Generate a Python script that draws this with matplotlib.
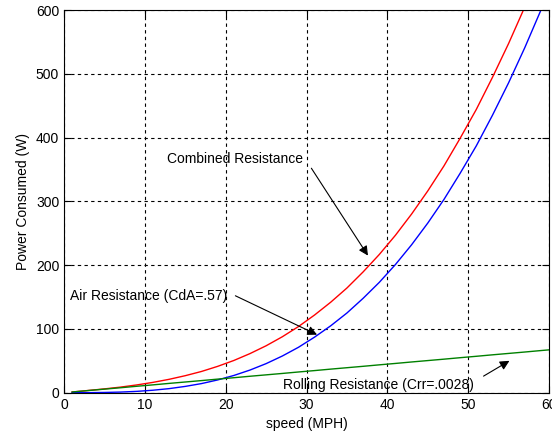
import matplotlib
matplotlib.use("Agg")
import matplotlib.pyplot as plt

# speed (MPH) and power (W)
speed = [1, 3, 5, 7, 9, 11, 13, 15, 17, 19, 21, 23, 25, 27, 29, 31, 33, 35,
         37, 39, 41, 43, 45, 47, 49, 51, 53, 55, 57, 59, 60]
air = [0.0, 0.1, 0.4, 1.0, 2.1, 3.9, 6.4, 9.9, 14.3, 20.0, 27.0, 35.5, 45.6,
       57.5, 71.2, 87.2, 105, 125, 148, 173, 201, 232, 266, 303, 344, 387,
       435, 486, 541, 600, 631]
rolling = [1.1, 3.4, 5.6, 7.8, 10.1, 12.3, 14.6, 16.8, 19.0, 21.3, 23.5, 25.8,
           28.0, 30.2, 32.5, 34.7, 37.0, 39.2, 41.4, 43.7, 45.9, 48.2, 50.4,
           52.6, 54.9, 57.1, 59.4, 61.6, 63.8, 66.1, 67.2]
combined = [a + r for a, r in zip(air, rolling)]

plt.rcParams['font.family'] = ['Liberation Sans', 'DejaVu Sans']
plt.rcParams['font.size'] = 10

fig = plt.figure(figsize=(5.52, 4.38), dpi=100)
ax = fig.add_axes([0.116, 0.1034, 0.8786, 0.8736])

ax.plot(speed, combined, color='red', lw=1)
ax.plot(speed, air, color='blue', lw=1)
ax.plot(speed, rolling, color='green', lw=1)

ax.set_xlim(0, 60)
ax.set_ylim(0, 600)
ax.set_xticks(range(0, 61, 10))
ax.set_yticks(range(0, 601, 100))
ax.grid(True, color='black', linestyle=(0, (3, 3)), linewidth=0.8)
ax.tick_params(direction='in', top=True, right=True, length=5, width=0.8)
for s in ax.spines.values():
    s.set_linewidth(0.8)

ax.set_xlabel('speed (MPH)')
ax.set_ylabel('Power Consumed (W)')

# text labels, arrows drawn separately (like matplotlib annotate w/o text)
arr = dict(arrowstyle='-|>', color='black', lw=0.8, mutation_scale=14,
           shrinkA=0, shrinkB=0)
ax.text(12.7, 366, 'Combined Resistance', va='center', ha='left')
ax.annotate('', xy=(37.6, 215), xytext=(30.6, 352), arrowprops=arr)
ax.text(0.7, 151, 'Air Resistance (CdA=.57)', va='center', ha='left')
ax.annotate('', xy=(31.3, 91), xytext=(21.2, 152), arrowprops=arr)
ax.text(27.1, 12, 'Rolling Resistance (Crr=.0028)', va='center', ha='left')
ax.annotate('', xy=(55.1, 50), xytext=(51.9, 26), arrowprops=arr)

fig.savefig('out.png', dpi=100)
